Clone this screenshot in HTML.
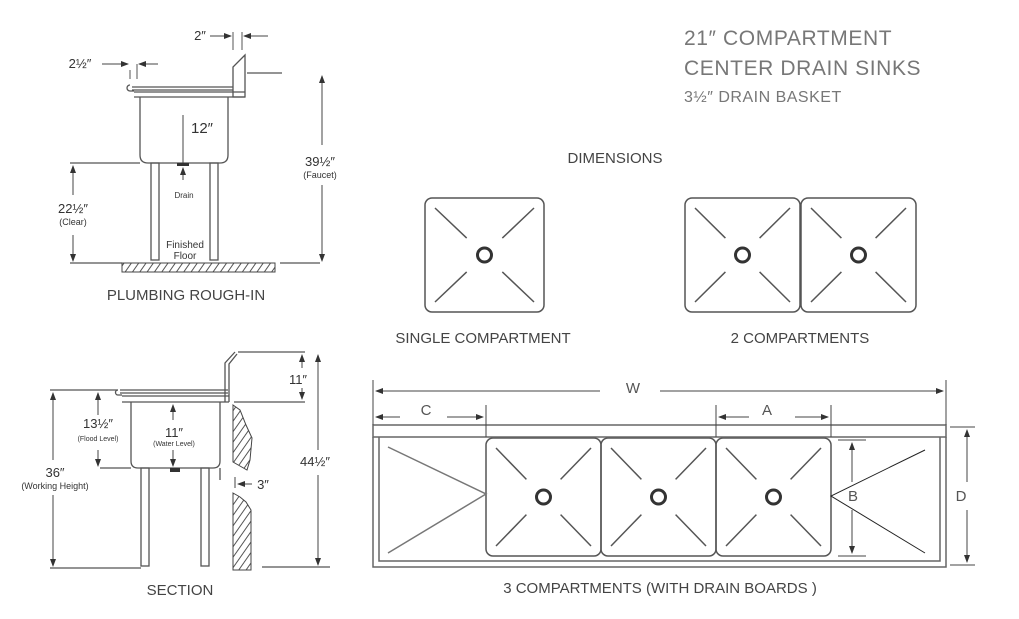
<!DOCTYPE html>
<html><head><meta charset="utf-8"><style>
html,body{margin:0;padding:0;background:#fff;}
svg{display:block;}
text{font-family:"Liberation Sans",sans-serif;}
</style></head><body>
<svg id="s" width="1019" height="619" viewBox="0 0 1019 619" xmlns="http://www.w3.org/2000/svg">
<defs>
<pattern id="h" width="6" height="6" patternUnits="userSpaceOnUse" patternTransform="rotate(35)">
<rect width="6" height="6" fill="#fff"/><line x1="0" y1="0" x2="0" y2="6" stroke="#555" stroke-width="2"/></pattern>
<marker id="a" markerWidth="8" markerHeight="8" refX="7" refY="4" orient="auto" markerUnits="userSpaceOnUse"><path d="M0,1 L8,4 L0,7z" fill="#333"/></marker>
</defs>
<g fill="#777" font-size="21" letter-spacing="0.6">
<text x="684" y="45">21″ COMPARTMENT</text>
<text x="684" y="75">CENTER DRAIN SINKS</text>
<text x="684" y="102" font-size="16" letter-spacing="0.5">3½″ DRAIN BASKET</text>
</g>
<g fill="#444" font-size="15" text-anchor="middle">
<text x="615" y="163">DIMENSIONS</text>
<text x="483" y="343">SINGLE COMPARTMENT</text>
<text x="800" y="343">2 COMPARTMENTS</text>
<text x="660" y="593">3 COMPARTMENTS (WITH DRAIN BOARDS )</text>
<text x="186" y="300">PLUMBING ROUGH-IN</text>
<text x="180" y="595">SECTION</text>
</g>
<g id="comps" fill="none" stroke="#555" stroke-width="1.5"></g>

<g fill="none" stroke="#666" stroke-width="1.5">
<rect x="373" y="425" width="573" height="12"/>
<path d="M373 437 V567 H946 V437"/>
<path d="M379 437 V561 H940 V437"/>
<path d="M388 447 L486 494 L388 553" stroke="#777"/>
<path d="M925 450 L831 496 L925 553" stroke="#222" stroke-width="1"/>
</g>
<g stroke="#444" stroke-width="1" fill="none">
<line x1="373" y1="380" x2="373" y2="425"/><line x1="946" y1="380" x2="946" y2="425"/>
<path d="M600 391 H376" marker-end="url(#a)"/><path d="M660 391 H943" marker-end="url(#a)"/>
<line x1="486" y1="405" x2="486" y2="437"/><line x1="716" y1="405" x2="716" y2="437"/><line x1="831" y1="405" x2="831" y2="437"/>
<path d="M400 417 H376" marker-end="url(#a)"/><path d="M447 417 H483" marker-end="url(#a)"/>
<path d="M749 417 H719" marker-end="url(#a)"/><path d="M795 417 H828" marker-end="url(#a)"/>
<line x1="838" y1="440" x2="866" y2="440"/><line x1="838" y1="556" x2="866" y2="556"/>
<path d="M852 482 V443" marker-end="url(#a)"/><path d="M852 510 V553" marker-end="url(#a)"/>
<line x1="950" y1="427" x2="975" y2="427"/><line x1="950" y1="565" x2="975" y2="565"/>
<path d="M967 482 V430" marker-end="url(#a)"/><path d="M967 510 V562" marker-end="url(#a)"/>
</g>
<g fill="#555" font-size="15" text-anchor="middle">
<text x="633" y="393">W</text><text x="426" y="415">C</text><text x="767" y="415">A</text>
<text x="853" y="501">B</text><text x="961" y="501">D</text>
</g>

<g fill="none" stroke="#555" stroke-width="1.3">
<path d="M132 87 H233 M132 90 H233 M130 85 a2.5 2.5 0 0 0 0 6 H134"/>
<path d="M233 97 V67 L245 55 V97 Z" fill="#fff"/>
<path d="M134 92 H245 M134 97 H245"/>
<path d="M140 97 V155 q0 8 8 8 H220 q8 0 8 -8 V97"/>
<rect x="151" y="163" width="8" height="97"/><rect x="210" y="163" width="8" height="97"/>
<path d="M70 163 H140 M247 73 H282 M280 263 H320 M70 263 H122"/>
<path d="M130 70 V79 M137 64 V79 M233 32 V50 M242 32 V50" stroke-width="1"/>
</g>
<rect x="122" y="263" width="153" height="9" fill="url(#h)" stroke="#444"/>
<g stroke="#444" stroke-width="1" fill="none">
<path d="M102 64 H128" marker-end="url(#a)"/><path d="M158 64 H139" marker-end="url(#a)"/>
<path d="M210 36 H231" marker-end="url(#a)"/><path d="M268 36 H244" marker-end="url(#a)"/>
<path d="M183 115 V163 M183 180 V168" marker-end="url(#a)"/>
<path d="M73 195 V166" marker-end="url(#a)"/><path d="M73 235 V261" marker-end="url(#a)"/>
<path d="M322 145 V76" marker-end="url(#a)"/><path d="M322 185 V261" marker-end="url(#a)"/>
</g>
<rect x="177" y="163" width="12" height="3" fill="#333"/>
<g fill="#333" text-anchor="middle">
<text x="80" y="68" font-size="13">2½″</text>
<text x="200" y="40" font-size="13">2″</text>
<text x="202" y="133" font-size="15">12″</text>
<text x="184" y="198" font-size="8">Drain</text>
<text x="73" y="213" font-size="13">22½″</text><text x="73" y="225" font-size="9">(Clear)</text>
<text x="320" y="166" font-size="13">39½″</text><text x="320" y="178" font-size="9">(Faucet)</text>
<text x="185" y="248" font-size="10">Finished</text><text x="185" y="259" font-size="10">Floor</text>
</g>

<g fill="none" stroke="#555" stroke-width="1.3">
<path d="M120 390 H228 M120 393 H228 M118 390 a2.5 2.5 0 0 0 0 5 H122"/>
<path d="M122 396 H229 M122 402 H229"/>
<path d="M225 402 V363 L235 352 M229 402 V364 L237 354"/>
<path d="M131 402 V461 q0 7 7 7 H213 q7 0 7 -7 V402"/>
<rect x="141" y="468" width="8" height="98"/><rect x="201" y="468" width="8" height="98"/>
<path d="M50 390 H118 M100 468 H131 M238 352 H305 M234 402 H305 M262 567 H330 M50 568 H141 M220 468 V480"/>
</g>
<path d="M233 405 L240 410 L246 425 L252 438 L250 460 L247 470 L233 462 Z" fill="url(#h)" stroke="#444"/>
<path d="M233 493 L240 497 L246 502 L251 510 V570 H233 Z" fill="url(#h)" stroke="#444"/>
<g stroke="#444" stroke-width="1" fill="none">
<path d="M53 460 V393" marker-end="url(#a)"/><path d="M53 495 V566" marker-end="url(#a)"/>
<path d="M98 415 V393" marker-end="url(#a)"/><path d="M98 450 V466" marker-end="url(#a)"/>
<path d="M173 420 V405" marker-end="url(#a)"/><path d="M173 450 V466" marker-end="url(#a)"/>
<path d="M302 368 V355" marker-end="url(#a)"/><path d="M302 388 V399" marker-end="url(#a)"/>
<path d="M318 450 V355" marker-end="url(#a)"/><path d="M318 475 V565" marker-end="url(#a)"/>
<path d="M235 477 V488 M252 484 H238" marker-end="url(#a)"/>
</g>
<rect x="170" y="468" width="10" height="4" fill="#333"/>
<g fill="#333" text-anchor="middle">
<text x="98" y="428" font-size="13">13½″</text><text x="98" y="441" font-size="7">(Flood Level)</text>
<text x="174" y="437" font-size="13">11″</text><text x="174" y="446" font-size="7">(Water Level)</text>
<text x="55" y="477" font-size="13">36″</text><text x="55" y="489" font-size="9">(Working Height)</text>
<text x="298" y="384" font-size="13">11″</text>
<text x="263" y="489" font-size="13">3″</text>
<text x="315" y="466" font-size="13">44½″</text>
</g>
</svg>
<script>
var g=document.getElementById('comps'),NS='http://www.w3.org/2000/svg';
function el(t,a){var e=document.createElementNS(NS,t);for(var k in a)e.setAttribute(k,a[k]);g.appendChild(e);}
function comp(x,y,w,h){
 el('rect',{x:x,y:y,width:w,height:h,rx:7});
 var cx=x+w/2,cy=y+h/2,ix=10,iy=10,g1=0.36;
 [[x+ix,y+iy],[x+w-ix,y+iy],[x+ix,y+h-iy],[x+w-ix,y+h-iy]].forEach(function(p){
  var ex=p[0]+(cx-p[0])*(1-g1), ey=p[1]+(cy-p[1])*(1-g1);
  el('line',{x1:p[0],y1:p[1],x2:ex,y2:ey});
 });
 el('circle',{cx:cx,cy:cy,r:7,'stroke-width':3,stroke:'#333'});
}
comp(425,198,119,114);
comp(685,198,115,114);comp(801,198,115,114);
comp(486,438,115,118);comp(601,438,115,118);comp(716,438,115,118);
</script>
</body></html>
